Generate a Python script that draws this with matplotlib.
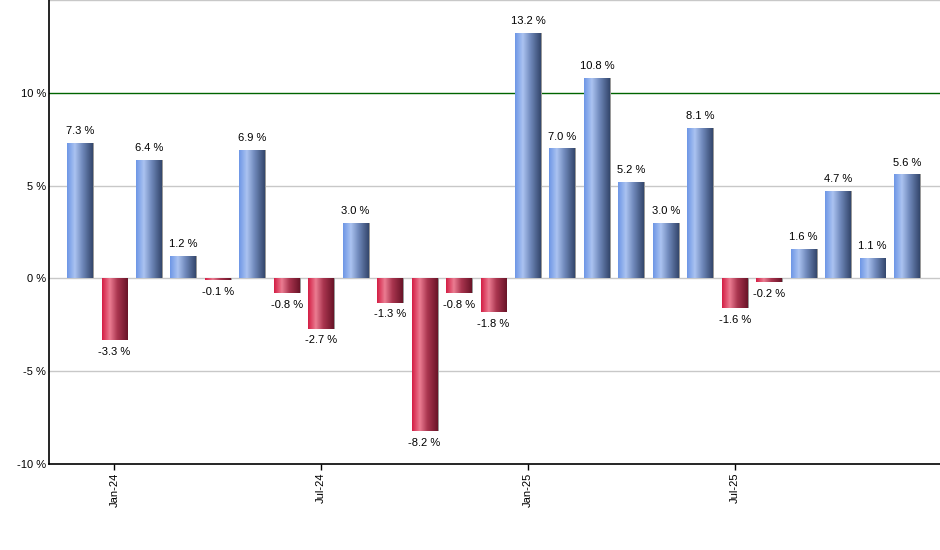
import numpy as np
import matplotlib.pyplot as plt
from matplotlib.colors import LinearSegmentedColormap

plt.rcParams['font.family'] = ['Liberation Sans', 'DejaVu Sans']

# monthly returns, Dec-23 .. Dec-25
months = ['Dec-23', 'Jan-24', 'Feb-24', 'Mar-24', 'Apr-24', 'May-24', 'Jun-24',
          'Jul-24', 'Aug-24', 'Sep-24', 'Oct-24', 'Nov-24', 'Dec-24',
          'Jan-25', 'Feb-25', 'Mar-25', 'Apr-25', 'May-25', 'Jun-25',
          'Jul-25', 'Aug-25', 'Sep-25', 'Oct-25', 'Nov-25', 'Dec-25']
returns = [7.3, -3.3, 6.4, 1.2, -0.1, 6.9, -0.8, -2.7, 3.0, -1.3, -8.2, -0.8, -1.8,
           13.2, 7.0, 10.8, 5.2, 3.0, 8.1, -1.6, -0.2, 1.6, 4.7, 1.1, 5.6]
tick_months = ['Jan-24', 'Jul-24', 'Jan-25', 'Jul-25']
y_ticks = [-10, -5, 0, 5, 10]

blue_cm = LinearSegmentedColormap.from_list(
    'blue', [(0, '#6e97e6'), (0.3, '#abc3f1'), (0.6, '#7089bb'), (1, '#34476d')])
red_cm = LinearSegmentedColormap.from_list(
    'red', [(0, '#d31f45'), (0.3, '#eb7c92'), (0.6, '#a9354f'), (1, '#6a1428')])

fig = plt.figure(figsize=(9.4, 5.5), dpi=100)
ax = fig.add_axes([49 / 940, 86 / 550, 891 / 940, 464 / 550])

x = np.arange(len(months))
width = 0.75
grad = np.linspace(0, 1, 64).reshape(1, -1)

bars = ax.bar(x, returns, width=width, color='none', edgecolor='none', zorder=3)
for xi, val, b in zip(x, returns, bars):
    cm = blue_cm if val >= 0 else red_cm
    # thin grey shadow on the right
    ax.bar(xi + 0.03, val, width=width, color='#9a9a9a', zorder=2)
    im = ax.imshow(grad, cmap=cm, aspect='auto', zorder=3,
                   extent=[xi - width / 2, xi + width / 2, min(0, val), max(0, val)])
    im.set_clip_path(b)
    if val >= 0:
        ax.annotate(f'{val:.1f} %', (xi, val), xytext=(0, 5), textcoords='offset points',
                    ha='center', va='bottom', fontsize=8)
    else:
        ax.annotate(f'{val:.1f} %', (xi, val), xytext=(0, -5), textcoords='offset points',
                    ha='center', va='top', fontsize=8)

for g in [15, 5, 0, -5]:
    ax.axhline(g, color='#c8c8c8', linewidth=1, zorder=1)
ax.axhline(10, color='#006400', linewidth=1, zorder=1)

ax.set_xlim(-0.9, 24.96)
ax.set_ylim(-10, 15)
ax.set_yticks(y_ticks)
ax.set_yticklabels([f'{t} %' for t in y_ticks], fontsize=8)
ax.set_xticks([months.index(m) for m in tick_months])
ax.set_xticklabels(tick_months, rotation=90, fontsize=8)
ax.tick_params(axis='y', length=0, pad=2)
ax.tick_params(axis='x', length=4, width=1, pad=2)

for s in ['top', 'right']:
    ax.spines[s].set_visible(False)
for s in ['left', 'bottom']:
    ax.spines[s].set_linewidth(1.2)

fig.savefig('out.png', dpi=100)
